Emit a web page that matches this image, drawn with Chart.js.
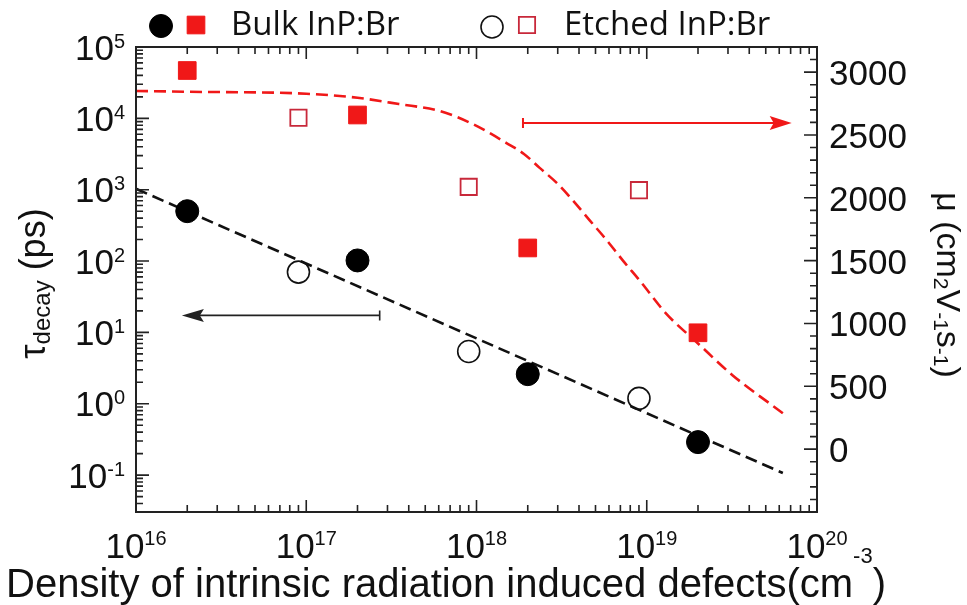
<!DOCTYPE html>
<html>
<head>
<meta charset="utf-8">
<script src="https://cdn.jsdelivr.net/npm/chart.js@4.4.1/dist/chart.umd.min.js"></script>
<style>
  html, body { margin: 0; padding: 0; background: #fff; }
  canvas { display: block; }
</style>
</head>
<body>
<canvas id="defectChart" width="967" height="605"></canvas>
<script>
// density of intrinsic radiation induced defects (cm^-3)
const bulkDensity = [2e16, 2e17, 2e18, 2e19];
const etchedDensity = [9e16, 9e17, 9e18];

// decay time (ps) - left axis
const bulkTau = [500, 102, 2.6, 0.29];
const etchedTau = [70, 5.4, 1.19];

// mobility (cm2 V-1 s-1) - right axis
const bulkMu = [3013, 2659, 1601, 926];
const etchedMu = [2637, 2087, 2061];

// dashed fit lines
const tauFitDensity = [1e16, 6.3e19];
const tauFit = [1030, 0.107];
const muFitDensity = [1e16, 2e16, 1e17, 2e17, 3.5e17, 6.1e17, 9.5e17, 1.5e18, 1.9e18, 2.35e18, 3e18, 3.7e18, 4.65e18, 5.85e18, 7.25e18, 9.1e18, 1.3e19, 2e19, 3.2e19, 6.3e19];
const muFit = [2850, 2844, 2828, 2796, 2746, 2690, 2587, 2436, 2349, 2238, 2111, 1976, 1817, 1659, 1500, 1341, 1079, 841, 587, 286];

// tick labels
const xExponents = [16, 17, 18, 19, 20];
const tauExponents = [-1, 0, 1, 2, 3, 4, 5];
const muTicks = [0, 500, 1000, 1500, 2000, 2500, 3000];

// arrows telling which axis goes with which data (in data units)
const tauArrow = { from: 2.7e17, to: 1.86e16, y: 17.3 };
const muArrow = { from: 1.875e18, to: 7.1e19, y: 2595 };

const RED = '#f01818';
const INK = '#222';
const NUM_FONT = '"Liberation Sans", Arial, sans-serif';

const pts = (xs, ys) => xs.map((x, i) => ({ x: x, y: ys[i] }));

// text with a raised (or shifted) small part, e.g. 10^16
function drawParts(ctx, parts, x, y, align) {
    let total = 0;
    parts.forEach(p => { ctx.font = p.font; p.w = ctx.measureText(p.t).width; total += p.w; });
    let cx = align === 'right' ? x - total : align === 'center' ? x - total / 2 : x;
    parts.forEach(p => {
        ctx.font = p.font;
        ctx.fillText(p.t, cx, y + (p.dy || 0));
        cx += p.w;
    });
    return total;
}

function power(exp) {
    return [
        { t: '10', font: '35px ' + NUM_FONT },
        { t: String(exp), font: '20px ' + NUM_FONT, dy: -12 }
    ];
}

function drawArrow(ctx, x1, x2, y, color, lw, half) {
    const dir = Math.sign(x2 - x1);
    ctx.save();
    ctx.strokeStyle = color;
    ctx.fillStyle = color;
    ctx.lineWidth = lw;
    ctx.beginPath();
    ctx.moveTo(x1, y - 5);
    ctx.lineTo(x1, y + 5);
    ctx.moveTo(x1, y);
    ctx.lineTo(x2 - dir * 14, y);
    ctx.stroke();
    ctx.beginPath();
    ctx.moveTo(x2, y);
    ctx.lineTo(x2 - dir * 22, y - half);
    ctx.lineTo(x2 - dir * 18, y);
    ctx.lineTo(x2 - dir * 22, y + half);
    ctx.closePath();
    ctx.fill();
    ctx.restore();
}

const framePlugin = {
    id: 'frame',
    afterDraw(chart) {
        const ctx = chart.ctx;
        const a = chart.chartArea;
        const xs = chart.scales.x, yl = chart.scales.yTau, yr = chart.scales.yMu;
        ctx.save();
        ctx.strokeStyle = INK;
        ctx.fillStyle = '#111';
        ctx.lineWidth = 2;
        ctx.strokeRect(a.left, a.top, a.right - a.left, a.bottom - a.top);

        ctx.lineWidth = 1.6;
        ctx.beginPath();
        // x ticks, bottom and top, pointing inwards
        for (let e = xExponents[0]; e <= xExponents[xExponents.length - 1]; e++) {
            for (let m = 1; m < 10; m++) {
                const v = m * Math.pow(10, e);
                if (v > xs.max * 1.0001) break;
                const px = xs.getPixelForValue(v);
                const len = m === 1 ? 12 : 7;
                ctx.moveTo(px, a.bottom); ctx.lineTo(px, a.bottom - len);
                ctx.moveTo(px, a.top); ctx.lineTo(px, a.top + len);
            }
        }
        // left log ticks
        for (let e = -2; e <= 5; e++) {
            for (let m = 1; m < 10; m++) {
                const v = m * Math.pow(10, e);
                if (v < yl.min || v > yl.max * 1.0001) continue;
                const py = yl.getPixelForValue(v);
                const len = m === 1 ? 13 : 7;
                ctx.moveTo(a.left, py); ctx.lineTo(a.left + len, py);
            }
        }
        // right linear ticks
        for (let v = -500; v <= 3200; v += 100) {
            const py = yr.getPixelForValue(v);
            const len = v % 500 === 0 ? 13 : 7;
            ctx.moveTo(a.right, py); ctx.lineTo(a.right - len, py);
        }
        ctx.stroke();

        // tick labels
        ctx.textBaseline = 'alphabetic';
        xExponents.forEach(e => {
            drawParts(ctx, [
                { t: '10', font: '35px ' + NUM_FONT },
                { t: String(e), font: '20px ' + NUM_FONT, dy: -13 }
            ], xs.getPixelForValue(Math.pow(10, e)), 558, 'center');
        });
        tauExponents.forEach(e => {
            const py = yl.getPixelForValue(Math.pow(10, e));
            drawParts(ctx, power(e), 125, py + 12.5, 'right');
        });
        ctx.font = '35px ' + NUM_FONT;
        muTicks.forEach(v => {
            ctx.fillText(String(v), 829, yr.getPixelForValue(v) + 13);
        });

        // x title
        drawParts(ctx, [
            { t: 'Density of intrinsic radiation induced defects(cm', font: '40px ' + NUM_FONT },
            { t: '-3', font: '22px ' + NUM_FONT, dy: -34 },
            { t: ')', font: '40px ' + NUM_FONT }
        ], 446, 597, 'center');

        // left title, reading upwards
        ctx.save();
        ctx.translate(45, (a.top + a.bottom) / 2 + 4);
        ctx.rotate(-Math.PI / 2);
        drawParts(ctx, [
            { t: '\u03c4', font: '36px ' + NUM_FONT },
            { t: 'decay', font: '24px ' + NUM_FONT, dy: 5 },
            { t: ' (ps)', font: '36px ' + NUM_FONT }
        ], 0, 0, 'center');
        ctx.restore();

        // right title, reading downwards
        ctx.save();
        ctx.translate(937, 285);
        ctx.rotate(Math.PI / 2);
        drawParts(ctx, [
            { t: '\u03bc (cm', font: '34px ' + NUM_FONT },
            { t: '2', font: '21px ' + NUM_FONT, dy: 3 },
            { t: 'V', font: '34px ' + NUM_FONT },
            { t: '-1', font: '21px ' + NUM_FONT, dy: 3 },
            { t: 's', font: '34px ' + NUM_FONT },
            { t: '-1', font: '21px ' + NUM_FONT, dy: 3 },
            { t: ')', font: '34px ' + NUM_FONT }
        ], 0, 0, 'center');
        ctx.restore();

        // arrows
        drawArrow(ctx, xs.getPixelForValue(tauArrow.from), xs.getPixelForValue(tauArrow.to),
            yl.getPixelForValue(tauArrow.y), INK, 1.6, 6.5);
        drawArrow(ctx, xs.getPixelForValue(muArrow.from), xs.getPixelForValue(muArrow.to),
            yr.getPixelForValue(muArrow.y), RED, 2, 7);

        // legend
        const ds = chart.data.datasets;
        const mark = (d, x, y) => {
            ctx.beginPath();
            if (d.pointStyle === 'rect') {
                const s = d.pointRadius * Math.SQRT1_2;
                ctx.rect(x - s, y - s, 2 * s, 2 * s);
            } else {
                ctx.arc(x, y, d.pointRadius, 0, Math.PI * 2);
            }
            ctx.fillStyle = d.backgroundColor;
            ctx.fill();
            ctx.lineWidth = d.borderWidth;
            ctx.strokeStyle = d.borderColor;
            ctx.stroke();
        };
        mark(ds[0], 161, 26);
        mark(ds[2], 196, 25);
        mark(ds[1], 492, 27);
        mark(ds[3], 527, 25);
        ctx.fillStyle = '#111';
        ctx.font = '33px "Open Sans", sans-serif';
        ctx.fillText('Bulk InP:Br', 231, 35);
        ctx.fillText('Etched InP:Br', 564, 35);
        ctx.restore();
    }
};

new Chart(document.getElementById('defectChart'), {
    type: 'scatter',
    data: {
        datasets: [{
            label: 'Bulk InP:Br',
            data: pts(bulkDensity, bulkTau),
            yAxisID: 'yTau',
            pointStyle: 'circle',
            pointRadius: 11.5,
            backgroundColor: '#000',
            borderColor: '#000',
            borderWidth: 1
        }, {
            label: 'Etched InP:Br',
            data: pts(etchedDensity, etchedTau),
            yAxisID: 'yTau',
            pointStyle: 'circle',
            pointRadius: 11,
            backgroundColor: 'rgba(255,255,255,0)',
            borderColor: '#111',
            borderWidth: 1.6
        }, {
            label: 'Bulk InP:Br mobility',
            data: pts(bulkDensity, bulkMu),
            yAxisID: 'yMu',
            pointStyle: 'rect',
            pointRadius: 12.5,
            backgroundColor: RED,
            borderColor: RED,
            borderWidth: 1
        }, {
            label: 'Etched InP:Br mobility',
            data: pts(etchedDensity, etchedMu),
            yAxisID: 'yMu',
            pointStyle: 'rect',
            pointRadius: 11.5,
            backgroundColor: 'rgba(255,255,255,0)',
            borderColor: '#c8283a',
            borderWidth: 1.8
        }, {
            label: 'tau fit',
            data: pts(tauFitDensity, tauFit),
            yAxisID: 'yTau',
            showLine: true,
            pointRadius: 0,
            borderColor: '#111',
            borderWidth: 2.6,
            borderDash: [12, 6]
        }, {
            label: 'mu fit',
            data: pts(muFitDensity, muFit),
            yAxisID: 'yMu',
            showLine: true,
            pointRadius: 0,
            borderColor: RED,
            borderWidth: 2.6,
            borderDash: [12, 6],
            cubicInterpolationMode: 'monotone'
        }]
    },
    options: {
        responsive: false,
        animation: false,
        devicePixelRatio: 1,
        layout: { padding: { left: 136, right: 150, top: 47, bottom: 93 } },
        plugins: { legend: { display: false }, tooltip: { enabled: false } },
        scales: {
            x: { type: 'logarithmic', min: 1e16, max: 1e20, display: false },
            yTau: { type: 'logarithmic', position: 'left', min: 0.0304, max: 1e5, display: false },
            yMu: { type: 'linear', position: 'right', min: -500, max: 3200, display: false }
        }
    },
    plugins: [framePlugin]
});
</script>
</body>
</html>
